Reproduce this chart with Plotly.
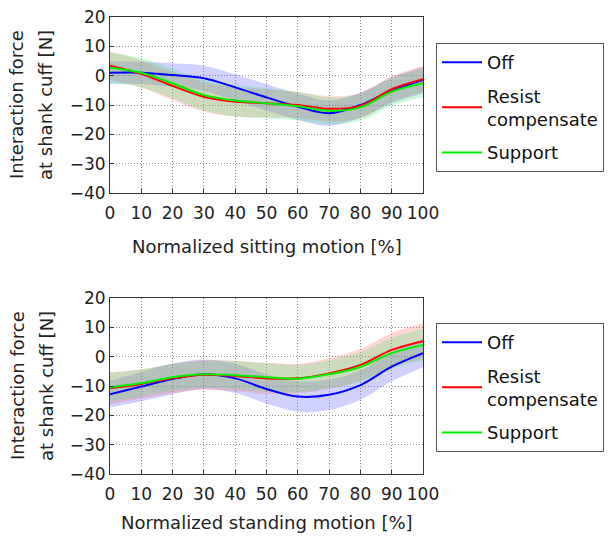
import plotly.graph_objects as go

# ---------------- data ----------------
x_pct = [0, 10, 20, 30, 40, 50, 60, 70, 80, 90, 100]

# Sitting motion (top panel)
sit_off = [1.0, 1.0, 0.2, -0.9, -4.0, -7.4, -10.6, -12.8, -10.0, -5.1, -1.5]
sit_off_sd = [3.8, 3.8, 4.0, 4.3, 4.5, 4.5, 4.5, 4.3, 4.3, 4.4, 4.5]
sit_res = [3.4, 0.6, -3.5, -7.2, -8.9, -9.4, -10.0, -11.3, -10.3, -4.6, -1.2]
sit_res_sd = [4.8, 4.6, 4.8, 5.0, 5.0, 4.8, 4.5, 4.3, 4.3, 4.4, 4.4]
sit_sup = [2.7, 1.0, -2.6, -6.6, -8.5, -9.4, -10.4, -12.0, -10.8, -5.5, -2.6]
sit_sup_sd = [5.2, 5.0, 5.0, 5.2, 5.4, 5.2, 4.8, 4.6, 4.6, 4.8, 4.8]

# Standing motion (bottom panel)
std_off = [-12.8, -10.2, -7.6, -6.0, -7.4, -11.0, -13.6, -13.0, -9.7, -3.4, 1.2]
std_off_sd = [4.5, 5.0, 5.2, 5.0, 5.0, 5.0, 5.2, 5.2, 5.0, 5.0, 4.8]
std_res = [-10.8, -9.3, -7.4, -6.2, -6.6, -7.4, -7.4, -5.7, -2.8, 2.3, 5.3]
std_res_sd = [5.5, 5.0, 5.0, 5.0, 5.2, 5.2, 5.0, 5.2, 5.5, 5.8, 6.0]
std_sup = [-10.5, -9.0, -7.0, -6.0, -6.3, -7.0, -7.5, -6.0, -3.5, 1.2, 4.0]
std_sup_sd = [5.0, 4.6, 4.6, 4.5, 4.8, 4.8, 4.6, 4.8, 5.0, 5.2, 5.4]

series_names = ["Off", "Resist<br>compensate", "Support"]
line_colors = ["#0000ff", "#ff0000", "#00ee00"]
band_colors = ["rgba(90,90,255,0.28)", "rgba(255,90,90,0.25)", "rgba(60,230,110,0.25)"]

x_ticks = [0, 10, 20, 30, 40, 50, 60, 70, 80, 90, 100]
y_ticks = [-40, -30, -20, -10, 0, 10, 20]

FONT = "DejaVu Sans"

fig = go.Figure()

panels = [
    ("x", "y", "legend", [sit_off, sit_res, sit_sup], [sit_off_sd, sit_res_sd, sit_sup_sd]),
    ("x2", "y2", "legend2", [std_off, std_res, std_sup], [std_off_sd, std_res_sd, std_sup_sd]),
]

for xa, ya, leg, means, sds in panels:
    # bands first
    for i in range(3):
        up = [m + s for m, s in zip(means[i], sds[i])]
        lo = [m - s for m, s in zip(means[i], sds[i])]
        fig.add_trace(go.Scatter(x=x_pct, y=up, mode="lines", line=dict(width=0, shape="spline"),
                                 xaxis=xa, yaxis=ya, showlegend=False, hoverinfo="skip"))
        fig.add_trace(go.Scatter(x=x_pct, y=lo, mode="lines", line=dict(width=0, shape="spline"),
                                 fill="tonexty", fillcolor=band_colors[i],
                                 xaxis=xa, yaxis=ya, showlegend=False, hoverinfo="skip"))
    for i in range(3):
        fig.add_trace(go.Scatter(x=x_pct, y=means[i], mode="lines", name=series_names[i],
                                 line=dict(color=line_colors[i], width=2, shape="spline"),
                                 xaxis=xa, yaxis=ya, legend=leg, legendgroup=leg + str(i)))

W, H = 608, 539
L, R, T, B = 110, 185, 17, 65
PW = W - L - R
ph = H - T - B

def fy(py):
    return (H - B - py) / ph

def fx(px):
    return (px - L) / PW

axis_common = dict(
    showline=True, linecolor="#333", linewidth=1, mirror=True,
    ticks="inside", ticklen=4, tickcolor="#333",
    showgrid=True, gridcolor="#909090", griddash="1px,2px", gridwidth=1,
    zeroline=False, tickfont=dict(family=FONT, size=17, color="#222"),
)

legend_common = dict(
    xanchor="left", yanchor="top",
    bordercolor="#555", borderwidth=1, bgcolor="white",
    font=dict(family=FONT, size=18, color="#111"), tracegroupgap=7,
    itemwidth=40, entrywidth=153,
)

fig.update_layout(
    width=W, height=H,
    margin=dict(l=L, r=R, t=T, b=B, autoexpand=False),
    paper_bgcolor="white", plot_bgcolor="white",
    xaxis=dict(domain=[0, 1], anchor="y", range=[0, 100], tickvals=x_ticks,
               ticklabelstandoff=5, **axis_common),
    yaxis=dict(domain=[fy(193), fy(17)], anchor="x", range=[-40, 20], tickvals=y_ticks, **axis_common),
    xaxis2=dict(domain=[0, 1], anchor="y2", range=[0, 100], tickvals=x_ticks,
                ticklabelstandoff=5, **axis_common),
    yaxis2=dict(domain=[fy(474), fy(298)], anchor="x2", range=[-40, 20], tickvals=y_ticks, **axis_common),
    legend=dict(x=fx(436), y=fy(43), **legend_common),
    legend2=dict(x=fx(436), y=fy(323), **legend_common),
)

title_font = dict(family=FONT, size=18, color="#222")
annots = [
    dict(text="Normalized sitting motion [%]", x=0.5, y=fy(247), xref="paper", yref="paper",
         showarrow=False, font=title_font, xanchor="center", yanchor="middle"),
    dict(text="Normalized standing motion [%]", x=0.5, y=fy(522), xref="paper", yref="paper",
         showarrow=False, font=title_font, xanchor="center", yanchor="middle"),
]
for cy in (105, 386):
    annots.append(dict(text="Interaction force", x=fx(17), y=fy(cy), xref="paper", yref="paper",
                       showarrow=False, font=title_font, textangle=-90, xanchor="center", yanchor="middle"))
    annots.append(dict(text="at shank cuff [N]", x=fx(46), y=fy(cy), xref="paper", yref="paper",
                       showarrow=False, font=title_font, textangle=-90, xanchor="center", yanchor="middle"))
fig.update_layout(annotations=annots)

fig.write_html("out.html")
